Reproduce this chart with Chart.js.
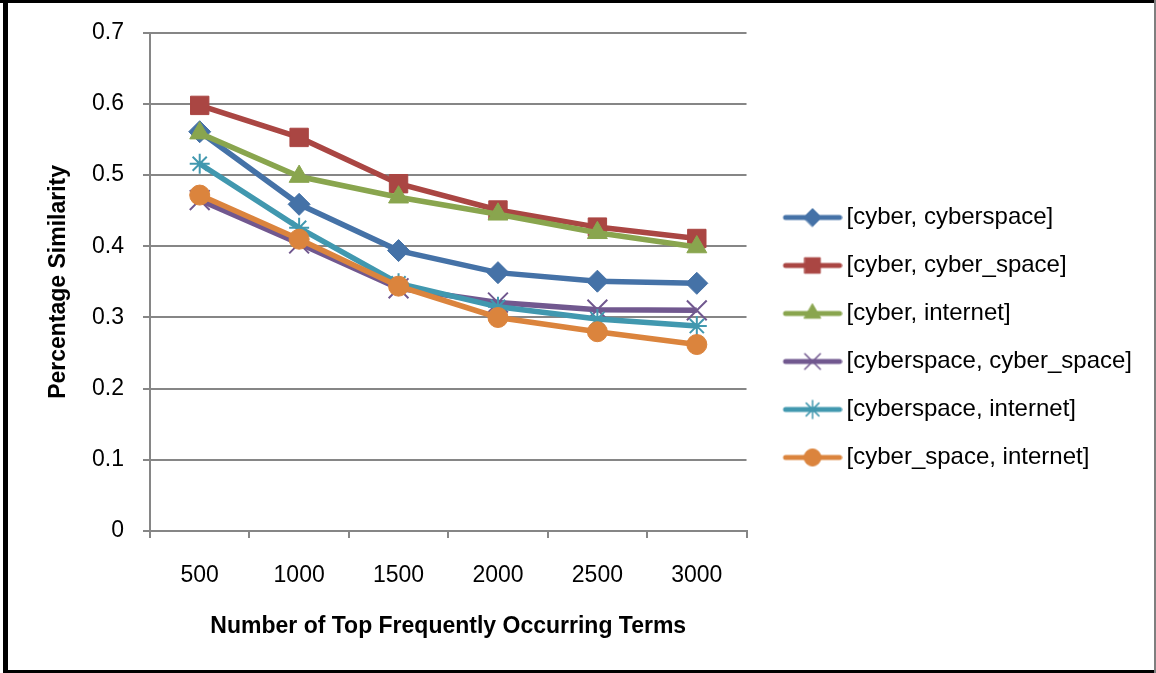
<!DOCTYPE html>
<html>
<head>
<meta charset="utf-8">
<script src="https://cdn.jsdelivr.net/npm/chart.js@4/dist/chart.umd.min.js"></script>
<style>
  html, body { margin: 0; padding: 0; background: #fff; }
  #wrap { width: 1156px; height: 673px; position: relative; }
</style>
</head>
<body>
<div id="wrap"><canvas id="c" width="1156" height="673"></canvas></div>
<script>
// ---- data ----
const categories = ['500', '1000', '1500', '2000', '2500', '3000'];
const seriesNames = [
  '[cyber, cyberspace]',
  '[cyber, cyber_space]',
  '[cyber, internet]',
  '[cyberspace, cyber_space]',
  '[cyberspace, internet]',
  '[cyber_space, internet]'
];
const cyberCyberspace       = [0.561, 0.459, 0.394, 0.363, 0.351, 0.348];
const cyberCyberSpace       = [0.598, 0.553, 0.488, 0.451, 0.427, 0.411];
const cyberInternet         = [0.559, 0.498, 0.469, 0.445, 0.419, 0.399];
const cyberspaceCyberSpace  = [0.465, 0.404, 0.341, 0.321, 0.311, 0.310];
const cyberspaceInternet    = [0.516, 0.426, 0.348, 0.315, 0.298, 0.288];
const cyberSpaceInternet    = [0.472, 0.410, 0.344, 0.300, 0.280, 0.262];
const yTicks = [0, 0.1, 0.2, 0.3, 0.4, 0.5, 0.6, 0.7];

// ---- styles ----
const FONT = '"Liberation Sans", Arial, sans-serif';
const colors = ['#4572A7', '#AA4643', '#89A54E', '#71588F', '#4198AF', '#DB843D'];
const markers = ['rectRot', 'rect', 'triangle', 'crossRot', 'star', 'circle'];
const radii = [11, 13, 11.5, 14, 10, 10];
const legendRadii = [9, 11, 9.5, 11, 9, 8.5];
const seriesData = [cyberCyberspace, cyberCyberSpace, cyberInternet, cyberspaceCyberSpace, cyberspaceInternet, cyberSpaceInternet];

function legendImage(i) {
  const cv = document.createElement('canvas');
  cv.width = 80; cv.height = 26;
  const ctx = cv.getContext('2d');
  ctx.strokeStyle = colors[i];
  ctx.fillStyle = colors[i];
  ctx.lineWidth = 5;
  ctx.lineCap = 'round';
  ctx.beginPath(); ctx.moveTo(23, 13); ctx.lineTo(77, 13); ctx.stroke();
  ctx.lineWidth = (markers[i] === 'crossRot' || markers[i] === 'star') ? 1.5 : 1;
  Chart.helpers.drawPoint(ctx, { pointStyle: markers[i], radius: legendRadii[i], borderWidth: ctx.lineWidth, rotation: 0 }, 50, 13);
  return cv;
}
const legendImgs = colors.map((c, i) => legendImage(i));

const datasets = seriesData.map((d, i) => ({
  label: seriesNames[i],
  data: d,
  borderColor: colors[i],
  backgroundColor: colors[i],
  borderWidth: 5.5,
  pointStyle: markers[i],
  pointRadius: radii[i],
  pointBackgroundColor: colors[i],
  pointBorderColor: colors[i],
  pointBorderWidth: (markers[i] === 'crossRot' || markers[i] === 'star') ? 2 : 1,
  tension: 0,
  order: 5 - i
}));

const framePlugin = {
  id: 'frame',
  beforeDraw(chart) {
    const ctx = chart.ctx;
    ctx.save();
    ctx.fillStyle = '#fff';
    ctx.fillRect(0, 0, chart.width, chart.height);
    ctx.restore();
  },
  afterDraw(chart) {
    const ctx = chart.ctx;
    ctx.save();
    ctx.fillStyle = '#000';
    ctx.fillRect(0, 0, 1156, 3);
    ctx.fillRect(3, 0, 5, 673);
    ctx.fillRect(3, 670, 1153, 3);
    ctx.fillStyle = '#7f7f7f';
    ctx.fillRect(1154, 0, 2, 673);
    ctx.restore();
  }
};

new Chart(document.getElementById('c'), {
  type: 'line',
  data: { labels: categories, datasets },
  plugins: [framePlugin],
  options: {
    responsive: false,
    animation: false,
    devicePixelRatio: 1,
    events: [],
    layout: { padding: { top: 30, left: 0, right: 14, bottom: 28 } },
    plugins: {
      tooltip: { enabled: false },
      legend: {
        position: 'right',
        align: 'center',
        maxWidth: 420,
        labels: {
          usePointStyle: true,
          pointStyleWidth: 64,
          padding: 24,
          color: '#000',
          font: { family: FONT, size: 24 },
          sort: (a, b) => a.datasetIndex - b.datasetIndex,
          generateLabels(chart) {
            const items = Chart.defaults.plugins.legend.labels.generateLabels(chart);
            items.forEach(it => { it.pointStyle = legendImgs[it.datasetIndex]; });
            return items;
          }
        }
      }
    },
    scales: {
      x: {
        type: 'category',
        offset: true,
        afterFit(scale) { scale.height = 114; },
        grid: { offset: true, drawOnChartArea: false, drawTicks: true, tickLength: 7, color: '#868686', lineWidth: 2 },
        border: { color: '#868686', width: 2 },
        ticks: { color: '#000', padding: 24, font: { family: FONT, size: 23 }, maxRotation: 0 },
        title: {
          display: true,
          text: 'Number of Top Frequently Occurring Terms',
          color: '#000',
          font: { family: FONT, size: 23, weight: 'bold' },
          padding: { top: 0, bottom: 5 }
        }
      },
      y: {
        min: 0,
        max: 0.7,
        afterFit(scale) { scale.width = 150; },
        afterBuildTicks(scale) { scale.ticks = yTicks.map(v => ({ value: v })); },
        grid: { color: '#868686', lineWidth: 2, tickLength: 7, drawTicks: true },
        border: { color: '#868686', width: 2 },
        ticks: {
          color: '#000',
          padding: 19,
          font: { family: FONT, size: 23 },
          callback: v => (v === 0 ? '0' : Number(v).toFixed(1))
        },
        title: {
          display: true,
          text: 'Percentage Similarity',
          color: '#000',
          font: { family: FONT, size: 23, weight: 'bold' },
          padding: { top: 45, bottom: 0 }
        }
      }
    }
  }
});
</script>
</body>
</html>
